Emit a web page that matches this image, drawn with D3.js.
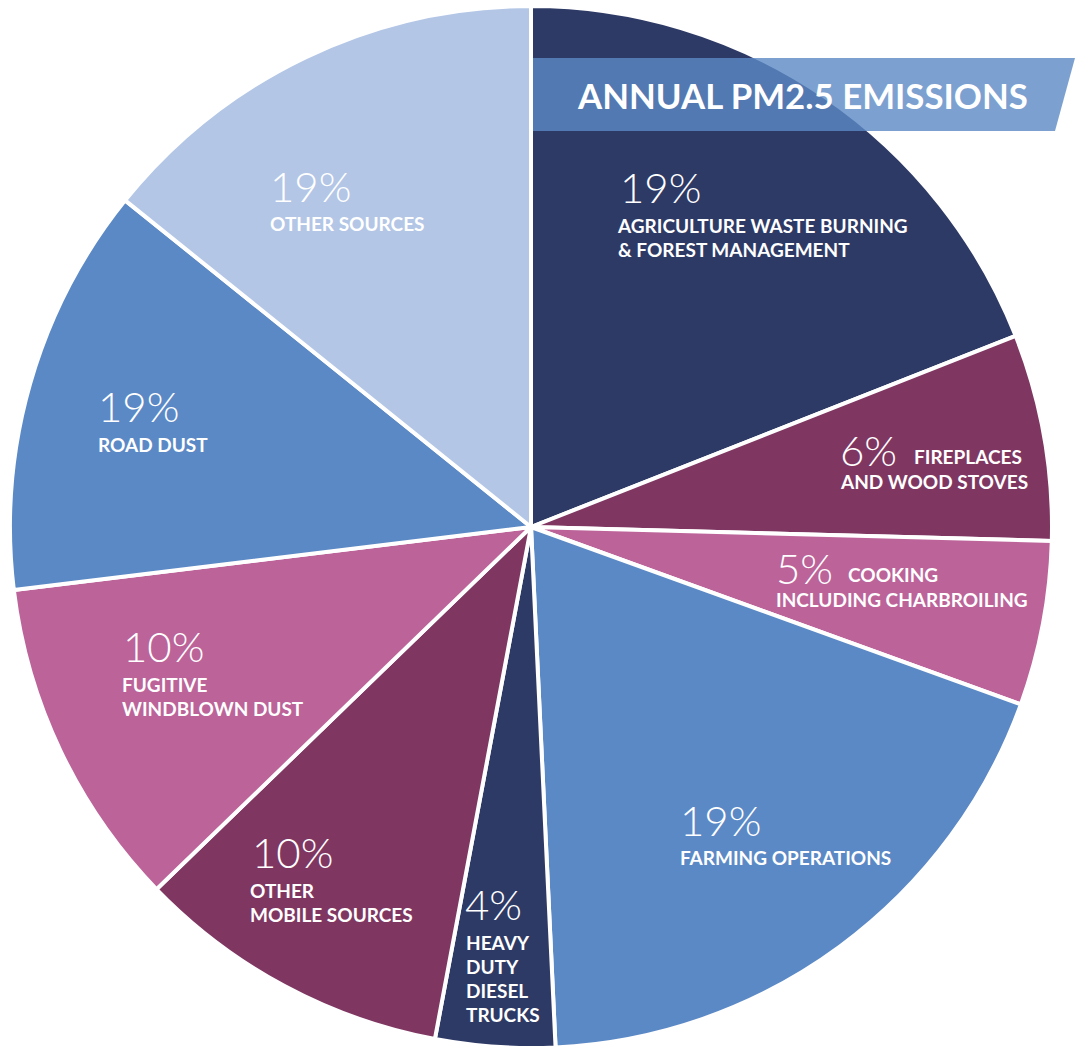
<!DOCTYPE html>
<html>
<head>
<meta charset="utf-8">
<script src="https://cdn.jsdelivr.net/npm/d3@7"></script>
<style>
  body { margin: 0; background: #fff; }
  svg { display: block; }
  .pct { font-family: Lato, "Open Sans", sans-serif; font-weight: 300; font-size: 42px; fill: #fff; }
  .name { font-family: Lato, "Open Sans", sans-serif; font-weight: 700; font-size: 19px; fill: #fff; }
  .title { font-family: Lato, "Open Sans", sans-serif; font-weight: 700; font-size: 34.8px; fill: #fff; }
</style>
</head>
<body>
<svg id="pie" width="1075" height="1047"></svg>
<script>
// slices, clockwise from 12 o'clock
var categories = ["agriculture", "fireplaces", "cooking", "farming", "heavyDuty",
                  "otherMobile", "fugitive", "roadDust", "otherSources"];
// share of the circle each slice takes in the picture
var shares = [19, 6.4, 5.1, 18.7, 3.7, 9.8, 10.3, 12.7, 14.2];
// percentage printed on each slice
var pctLabels = ["19%", "6%", "5%", "19%", "4%", "10%", "10%", "19%", "19%"];
var nameLabels = [
  ["AGRICULTURE WASTE BURNING", "& FOREST MANAGEMENT"],
  ["FIREPLACES", "AND WOOD STOVES"],
  ["COOKING", "INCLUDING CHARBROILING"],
  ["FARMING OPERATIONS"],
  ["HEAVY", "DUTY", "DIESEL", "TRUCKS"],
  ["OTHER", "MOBILE SOURCES"],
  ["FUGITIVE", "WINDBLOWN DUST"],
  ["ROAD DUST"],
  ["OTHER SOURCES"]
];
var title = "ANNUAL PM2.5 EMISSIONS";

var colors = ["#2e3a66", "#7f3762", "#bc6399", "#5b89c6", "#2e3a66",
              "#7f3762", "#bc6399", "#5b89c6", "#b3c6e6"];

// label placement: percentage anchor, where names start, and inline first line x
var layout = [
  {x: 620, y: 203, nx: 618, ny: 233},
  {x: 840, y: 466, nx: 841, ny: 489, inlineX: 914},
  {x: 776, y: 584, nx: 776, ny: 607, inlineX: 848},
  {x: 680, y: 836, nx: 680, ny: 865},
  {x: 465, y: 920, nx: 466, ny: 950},
  {x: 252, y: 868, nx: 250, ny: 898},
  {x: 123, y: 662, nx: 122, ny: 692},
  {x: 98,  y: 422, nx: 98,  ny: 452},
  {x: 270, y: 202, nx: 270, ny: 231}
];

var svg = d3.select("#pie"),
    cx = 531, cy = 527, radius = 521;

var data = categories.map(function(c, i) {
  return {key: c, value: shares[i], color: colors[i], pct: pctLabels[i], names: nameLabels[i], pos: layout[i]};
});

var pie = d3.pie().sort(null).value(function(d) { return d.value; });
var arc = d3.arc().innerRadius(0).outerRadius(radius);

var g = svg.append("g").attr("transform", "translate(" + cx + "," + cy + ")");

g.selectAll("path")
  .data(pie(data))
  .enter().append("path")
  .attr("d", arc)
  .attr("fill", function(d) { return d.data.color; })
  .attr("stroke", "#fff")
  .attr("stroke-width", 4)
  .attr("stroke-linejoin", "round");

// title banner, semi transparent over the first slice
svg.append("path")
  .attr("d", "M533,58 L1075,58 L1055,131 L533,131 Z")
  .attr("fill", "#5b89c6")
  .attr("fill-opacity", 0.8);

svg.append("text")
  .attr("class", "title")
  .attr("x", 578)
  .attr("y", 109)
  .text(title);

// labels
var labels = svg.selectAll(".lbl")
  .data(data)
  .enter().append("g")
  .attr("class", "lbl");

labels.append("text")
  .attr("class", "pct")
  .attr("x", function(d) { return d.pos.x; })
  .attr("y", function(d) { return d.pos.y; })
  .text(function(d) { return d.pct; });

labels.each(function(d) {
  var sel = d3.select(this);
  var lines = d.names.slice();
  if (d.pos.inlineX) {
    sel.append("text").attr("class", "name")
      .attr("x", d.pos.inlineX).attr("y", d.pos.y - 2)
      .text(lines.shift());
  }
  lines.forEach(function(t, j) {
    sel.append("text").attr("class", "name")
      .attr("x", d.pos.nx).attr("y", d.pos.ny + j * 24)
      .text(t);
  });
});
</script>
</body>
</html>
